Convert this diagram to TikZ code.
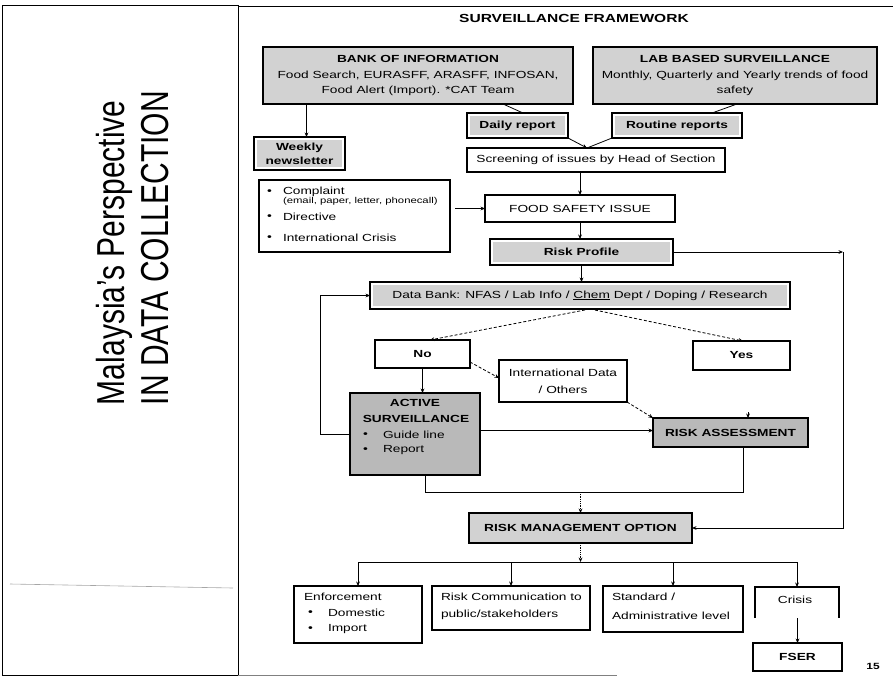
\documentclass[tikz,border=0pt]{standalone}
\usepackage{graphicx}
\usepackage{fontspec}
\setmainfont{Liberation Sans}
\newfontfamily\dfont[FakeStretch=1.33]{Liberation Sans}
\usetikzlibrary{arrows.meta}
\newcommand\dsz{\fontsize{10.3}{15.5}\selectfont}
\begin{document}
\begin{tikzpicture}[x=1pt,y=-1pt,
  every node/.style={inner sep=0pt, outer sep=0pt, font=\dfont\dsz},
  bx/.style={draw=black, line width=1.1pt, fill=white},
  full/.style={bx, fill=gray!35},
  dark/.style={bx, fill=gray!55},
  hl/.style={bx, path picture={\fill[gray!35] ([shift={(3pt,-3pt)}]path picture bounding box.north west) rectangle ([shift={(-3pt,3pt)}]path picture bounding box.south east);}},
  bf/.style={font=\dfont\bfseries\dsz},
  ln/.style={line width=0.8pt},
  arr/.style={ln, -{Stealth[length=4.5pt,width=3.8pt]}},
  dsh/.style={arr, dash pattern=on 3pt off 2pt},
  dotarr/.style={arr, densely dotted},
  tw/.style={anchor=west},
]
\useasboundingbox (0,0) rectangle (893,677);
% frame
\draw[line width=0.9pt] (2,5) rectangle (238,675);
\draw[line width=0.9pt] (238,6) -- (893,6);
\draw[gray, line width=0.8pt] (238,675) -- (617,675);
\draw[gray!70, line width=0.6pt] (10,584) -- (233,588);
% left title
\node[rotate=90, anchor=base west, font=\fontsize{30}{36}\selectfont] (t1) at (124,405) {\scalebox{1}[1.3]{Malaysia's Perspective}};
\node[rotate=90, anchor=base west, font=\fontsize{30}{36}\selectfont] (t2) at (168,405) {\scalebox{1}[1.3]{IN DATA COLLECTION}};
% title
\node[font=\dfont\bfseries\fontsize{11.7}{13}\selectfont] (title) at (574,18) {SURVEILLANCE FRAMEWORK};
% top boxes
\node[full, minimum width=310pt, minimum height=57pt, align=center] (bank) at (418,75.5) {\textbf{BANK OF INFORMATION}\\Food Search, EURASFF, ARASFF, INFOSAN,\\Food Alert (Import). *CAT Team};
\node[full, minimum width=284pt, minimum height=57pt, align=center] (lab) at (735,75.5) {\textbf{LAB BASED SURVEILLANCE}\\Monthly, Quarterly and Yearly trends of food\\safety};
\node[hl, bf, minimum width=91pt, minimum height=33pt, align=center] (weekly) at (299.5,153.5) {Weekly\\[-1.5pt]newsletter};
\node[hl, bf, minimum width=101pt, minimum height=25pt] (daily) at (517.5,125.5) {Daily report};
\node[hl, bf, minimum width=130pt, minimum height=25pt] (routine) at (677,125.5) {Routine reports};
\node[bx, minimum width=258pt, minimum height=24pt] (screen) at (596,160) {Screening of issues by Head of Section};
% complaint box
\node[bx, minimum width=191pt, minimum height=72pt] (comp) at (354.5,216) {};
\node[tw] (c1b) at (267,192) {•};
\node[tw] (c1) at (283,192) {Complaint};
\node[tw, font=\dfont\fontsize{8.5}{10}\selectfont] (c1s) at (283,201.5) {(email, paper, letter, phonecall)};
\node[tw] (c2b) at (267,217) {•};
\node[tw] (c2) at (283,217) {Directive};
\node[tw] (c3b) at (267,238) {•};
\node[tw] (c3) at (283,238) {International Crisis};
% middle
\node[bx, minimum width=190pt, minimum height=27pt] (food) at (580,208.5) {FOOD SAFETY ISSUE};
\node[hl, bf, minimum width=183pt, minimum height=26pt] (rp) at (581.5,252) {Risk Profile};
\node[hl, minimum width=420pt, minimum height=27pt] (db) at (580,295.5) {Data Bank: NFAS / Lab Info / \underline{Chem} Dept / Doping / Research};
\node[bx, bf, minimum width=95pt, minimum height=28pt] (no) at (422.5,354) {No};
\node[bx, bf, minimum width=97pt, minimum height=29pt] (yes) at (741.5,355.5) {Yes};
\node[bx, minimum width=128pt, minimum height=42pt, align=center, font=\dfont\fontsize{10.3}{17}\selectfont] (intl) at (563,381) {International Data\\/ Others};
\node[dark, minimum width=130pt, minimum height=82pt] (act) at (415,434) {};
\node[bf] (a1) at (415,403) {ACTIVE};
\node[bf] (a2) at (416,419) {SURVEILLANCE};
\node[tw] (a3b) at (363,435) {•};
\node[tw] (a3) at (383,435) {Guide line};
\node[tw] (a4b) at (363,450) {•};
\node[tw] (a4) at (383,450) {Report};
\node[dark, bf, minimum width=155pt, minimum height=29pt] (ra) at (730.5,432.5) {RISK ASSESSMENT};
\node[full, bf, minimum width=223pt, minimum height=30pt] (rm) at (580.5,528) {RISK MANAGEMENT OPTION};
% bottom boxes
\node[bx, minimum width=128pt, minimum height=57pt] (enf) at (358,614.5) {};
\node[tw] (e1) at (304,597) {Enforcement};
\node[tw] (e2b) at (308,613) {•};
\node[tw] (e2) at (328,613) {Domestic};
\node[tw] (e3b) at (308,629.5) {•};
\node[tw] (e3) at (328,629.5) {Import};
\node[bx, minimum width=158pt, minimum height=44pt] (rc) at (511,608) {};
\node[tw] (r1) at (441,597) {Risk Communication to};
\node[tw] (r2) at (441,615) {public/stakeholders};
\node[bx, minimum width=140pt, minimum height=46pt] (st) at (673,609) {};
\node[tw] (s1) at (612,597) {Standard /};
\node[tw] (s2) at (612,616) {Administrative level};
\node[minimum width=84pt, minimum height=31pt] (cr) at (797,602.5) {};
\draw[line width=1.1pt] (cr.south west) -- (cr.north west) -- (cr.north east) -- (cr.south east);
\node (crt) at (795,600) {Crisis};
\node[bx, bf, minimum width=89pt, minimum height=28pt] (fser) at (797.5,657) {FSER};
\node[font=\dfont\bfseries\fontsize{9}{10}\selectfont] (pg) at (873,666) {15};
% connectors
\coordinate (wk) at ([xshift=7pt]weekly.north);
\draw[arr] (bank.south -| wk) -- (wk);
\draw[ln] ([xshift=85pt]bank.south) -- ([xshift=5.5pt]daily.north);
\draw[ln] ([xshift=2pt]lab.south) -- ([xshift=35pt]routine.north);
\coordinate (mg) at (587,148);
\draw[ln] (routine.south west) -- (mg);
\draw[arr] (daily.south east) -- (mg);
\draw[arr] (screen.south -| food.north) -- (food.north);
\path (comp.east |- food.west) coordinate (cf);
\draw[arr] ([xshift=5pt]cf) -- (food.west);
\draw[arr] (food.south) -- (food.south |- rp.north);
\draw[arr] (rp.south) -- (rp.south |- db.north);
\coordinate (rk) at (843,252);
\draw[arr] (rp.east) -- (rk);
\draw[arr] (rk) -- (rk |- rm.east) -- (rm.east);
\draw[dsh] ([xshift=10pt]db.south) -- ([xshift=7.5pt]no.north);
\draw[dsh] ([xshift=10pt]db.south) -- ([xshift=1.5pt]yes.north);
\draw[dsh] ([yshift=-8pt]no.east) -- ([yshift=3pt]intl.west);
\draw[dsh] (intl.south east) -- (ra.north west);
\draw[arr] ([shift={(17.5pt,6pt)}]ra.north) -- ([xshift=17.5pt]ra.north);
\draw[arr] (no.south) -- (no.south |- act.north);
\draw[arr] ([yshift=2pt]act.east |- ra.west) -- ([yshift=2pt]ra.west);
\coordinate (fb) at (320,0);
\draw[arr] (act.west) -- (act.west -| fb) -- (fb |- db.west) -- (db.west);
\coordinate (jn) at (0,492);
\draw[ln] ([xshift=10pt]act.south) -- ([xshift=10pt]act.south |- jn) -- ([xshift=12.5pt]ra.south |- jn) -- ([xshift=12.5pt]ra.south);
\draw[dotarr] (rm.north |- jn) -- (rm.north);
\coordinate (dist) at (0,562);
\draw[dotarr] (rm.south) -- (rm.south |- dist);
\draw[ln] (enf.north |- dist) -- (cr.north |- dist);
\foreach \n in {enf,rc,st,cr} \draw[arr] (\n.north |- dist) -- (\n.north);
\draw[arr] (cr.south -| fser.north) -- (fser.north);
\end{tikzpicture}
\end{document}
